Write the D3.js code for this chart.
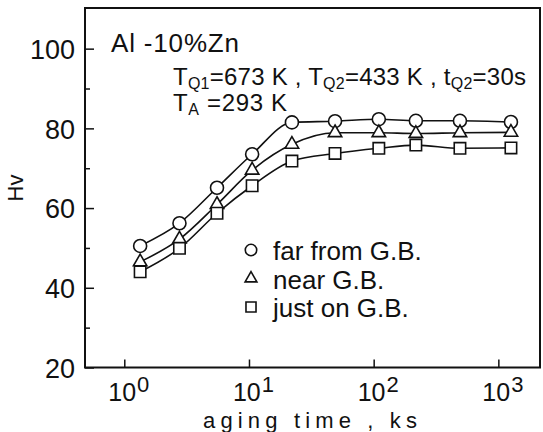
<!DOCTYPE html>
<html>
<head>
<meta charset="utf-8">
<script src="https://cdn.jsdelivr.net/npm/d3@7"></script>
<style>
  body { margin: 0; background: #fff; }
  svg text { font-family: "Liberation Sans", Arial, sans-serif; fill: #111; }
</style>
</head>
<body>
<div id="chart"></div>
<script>
// aging time (ks) and Vickers hardness
const agingTime = [1.34, 2.77, 5.54, 10.6, 22.1, 49, 110, 218, 492, 1262];
const hvFar  = [50.5, 56.2, 65.1, 73.5, 81.5, 81.8, 82.3, 81.9, 81.9, 81.6];
const hvNear = [46.5, 52.2, 60.9, 69.5, 76.0, 78.9, 78.9, 78.7, 78.9, 79.0];
const hvOn   = [44.0, 49.9, 58.7, 65.6, 71.8, 73.7, 75.0, 75.8, 75.0, 75.1];

const seriesNames = ["far from G.B.", "near G.B.", "just on G.B."];
const seriesSymbols = ["circle", "triangle", "square"];
const yTicks = [20, 40, 60, 80, 100];
const yMinorTicks = [30, 50, 70, 90];
const xExponents = [0, 1, 2, 3];

const width = 543, height = 432;
const frame = { left: 85, right: 540, top: 8, bottom: 367.5 };

const svg = d3.select("#chart").append("svg")
    .attr("width", width)
    .attr("height", height);

const x = d3.scaleLog()
    .domain([0.484, 2158])
    .range([frame.left, frame.right]);

const y = d3.scaleLinear()
    .domain([20, 110.2])
    .range([frame.bottom, frame.top]);

// cadre
svg.append("rect")
    .attr("x", frame.left).attr("y", frame.top)
    .attr("width", frame.right - frame.left)
    .attr("height", frame.bottom - frame.top)
    .attr("fill", "none")
    .attr("stroke", "#111")
    .attr("stroke-width", 2);

// axe Y
const yAxis = svg.append("g")
    .attr("transform", `translate(${frame.left},0)`)
    .call(d3.axisLeft(y).tickValues(yTicks).tickSize(-9).tickPadding(10));
yAxis.select(".domain").remove();
yAxis.selectAll("line").attr("stroke", "#111").attr("stroke-width", 1.5);
yAxis.selectAll("text")
    .style("font-size", "27px")
    .attr("dy", "0.36em");

const yMinor = svg.append("g")
    .attr("transform", `translate(${frame.left},0)`)
    .call(d3.axisLeft(y).tickValues(yMinorTicks).tickSize(-5).tickFormat(""));
yMinor.select(".domain").remove();
yMinor.selectAll("line").attr("stroke", "#111").attr("stroke-width", 1.5);

// axe X
const xAxis = svg.append("g")
    .attr("transform", `translate(0,${frame.bottom})`)
    .call(d3.axisBottom(x).tickValues(xExponents.map(e => Math.pow(10, e))).tickSize(-8).tickFormat(""));
xAxis.select(".domain").remove();
xAxis.selectAll("line").attr("stroke", "#111").attr("stroke-width", 1.5);

const xLabels = svg.append("g")
    .selectAll("text")
    .data(xExponents)
    .join("text")
    .attr("x", e => x(Math.pow(10, e)) - 16)
    .attr("y", 401)
    .style("font-size", "25px");
xLabels.append("tspan").text("10");
xLabels.append("tspan")
    .attr("dy", -9)
    .attr("dx", 1)
    .style("font-size", "22px")
    .text(e => e);

svg.append("text")
    .attr("x", 203)
    .attr("y", 428)
    .attr("textLength", 214)
    .attr("lengthAdjust", "spacing")
    .style("font-size", "22px")
    .text("aging time , ks");

svg.append("text")
    .attr("transform", "translate(23,188) rotate(-90)")
    .attr("text-anchor", "middle")
    .style("font-size", "22px")
    .text("Hv");

// courbes + marqueurs
const series = [hvFar, hvNear, hvOn].map((vals, i) => ({
    name: seriesNames[i],
    symbol: seriesSymbols[i],
    points: agingTime.map((t, j) => [t, vals[j]])
}));

const line = d3.line()
    .x(d => x(d[0]))
    .y(d => y(d[1]))
    .curve(d3.curveMonotoneX);

svg.append("g")
    .selectAll("path")
    .data(series)
    .join("path")
    .attr("d", d => line(d.points))
    .attr("fill", "none")
    .attr("stroke", "#111")
    .attr("stroke-width", 1.6);

function marker(sel, type, scale) {
    if (type === "circle") {
        sel.append("circle").attr("r", 6.5 * scale);
    } else if (type === "triangle") {
        sel.append("path").attr("d", d3.symbol(d3.symbolTriangle, 78 * scale * scale)());
    } else {
        sel.append("path").attr("d", d3.symbol(d3.symbolSquare, 130 * scale * scale)());
    }
    sel.selectAll("*")
        .attr("fill", "#fff")
        .attr("stroke", "#111")
        .attr("stroke-width", 1.6);
}

series.forEach(s => {
    svg.append("g")
        .selectAll("g")
        .data(s.points)
        .join("g")
        .attr("transform", d => `translate(${x(d[0])},${y(d[1])})`)
        .each(function () { marker(d3.select(this), s.symbol, 1); });
});

// légende
const legend = svg.append("g")
    .selectAll("g")
    .data(series)
    .join("g")
    .attr("transform", (d, i) => `translate(251,${250 + i * 28.5})`);
legend.each(function (d) { marker(d3.select(this), d.symbol, 0.88); });
legend.append("text")
    .attr("x", 22)
    .attr("y", 10)
    .style("font-size", "26px")
    .text(d => d.name);

// annotations
svg.append("text")
    .attr("x", 111).attr("y", 52)
    .attr("textLength", 128)
    .attr("lengthAdjust", "spacing")
    .style("font-size", "26px")
    .text("Al -10%Zn");

function richText(xPos, yPos, len, parts) {
    const t = svg.append("text")
        .attr("x", xPos).attr("y", yPos)
        .attr("textLength", len)
        .attr("lengthAdjust", "spacing")
        .style("font-size", "24px");
    let shifted = false;
    parts.forEach(p => {
        const sub = Array.isArray(p);
        const ts = t.append("tspan").text(sub ? p[0] : p);
        if (sub && !shifted) { ts.attr("dy", 4); shifted = true; }
        if (!sub && shifted) { ts.attr("dy", -4); shifted = false; }
        if (sub) ts.style("font-size", "16px");
    });
}

richText(173, 85, 353, ["T", ["Q1"], "=673 K , T", ["Q2"], "=433 K , t", ["Q2"], "=30s"]);
richText(173, 111, 114, ["T", ["A"], " =293 K"]);
</script>
</body>
</html>
